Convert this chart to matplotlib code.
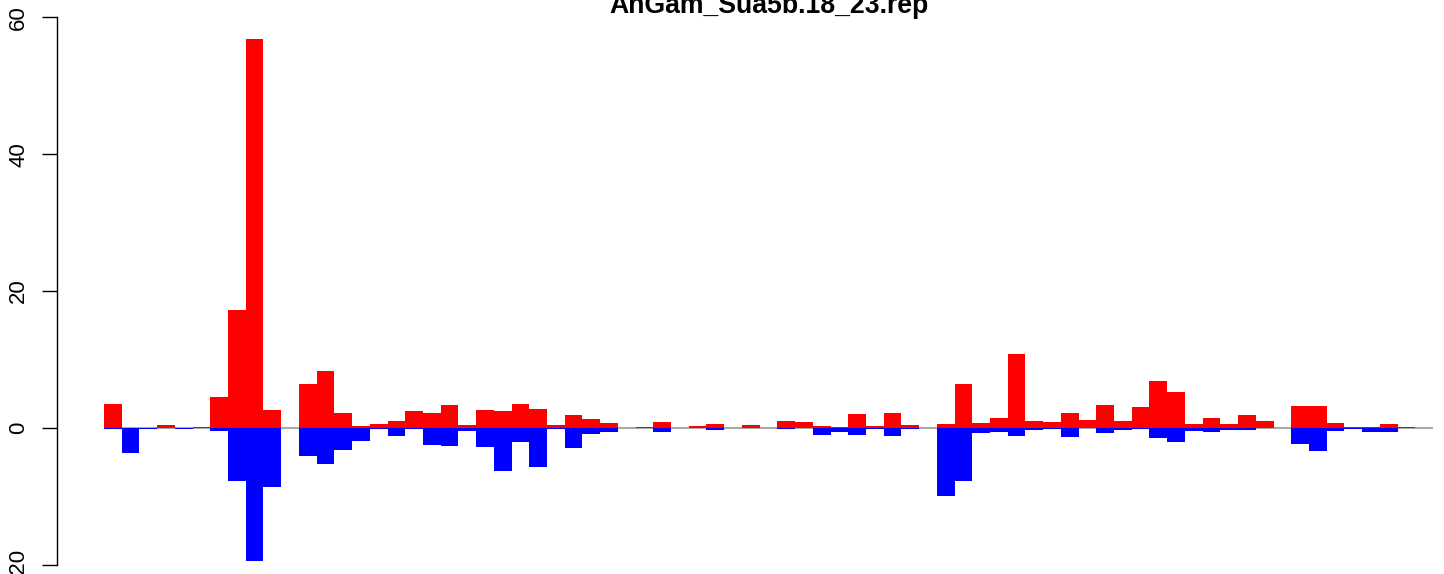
"""
Per-position positive / negative scores for AnGam_Sua5b.18_23.rep,
drawn as back-to-back bars (red above zero, blue below) in the style of an R barplot.
"""

import matplotlib

matplotlib.use("Agg")
import matplotlib.pyplot as plt

TITLE = "AnGam_Sua5b.18_23.rep"

# positive part of each position (red)
red = [3.45, 0.05, 0.05, 0.4, 0.0, 0.1, 4.6, 17.2, 56.8, 2.58, 0.0, 6.37, 8.3, 2.14, 0.24,
       0.58, 0.97, 2.43, 2.14, 3.31, 0.39, 2.58, 2.43, 3.45, 2.72, 0.39, 1.85, 1.27, 0.68, 0.0,
       0.1, 0.83, 0.0, 0.24, 0.54, 0.0, 0.39, 0.0, 0.97, 0.83, 0.24, 0.1, 2.0, 0.24, 2.17,
       0.44, 0.0, 0.58, 6.42, 0.73, 1.46, 10.8, 1.02, 0.88, 2.19, 1.17, 3.36, 1.02, 3.07, 6.86,
       5.26, 0.58, 1.46, 0.58, 1.9, 1.02, 0.0, 3.21, 3.21, 0.73, 0.15, 0.15, 0.58, 0.15, 0.0]

# negative part of each position (blue)
blue = [-0.1, -3.65, -0.1, -0.05, -0.1, 0.0, -0.45, -7.75, -19.4, -8.66, 0.0, -4.14, -5.3, -3.26, -1.95,
        -0.1, -1.22, -0.15, -2.48, -2.68, -0.49, -2.77, -6.28, -2.09, -5.69, -0.19, -2.92, -0.88, -0.58, 0.0,
        0.0, -0.58, 0.0, 0.0, -0.29, 0.0, 0.0, 0.0, -0.15, 0.0, -1.02, -0.58, -1.02, -0.15, -1.15,
        -0.15, 0.0, -10.0, -7.69, -0.68, -0.58, -1.12, -0.29, -0.1, -1.31, 0.0, -0.73, -0.29, -0.15, -1.44,
        -2.0, -0.44, -0.58, -0.29, -0.29, 0.0, 0.0, -2.29, -3.31, -0.44, -0.15, -0.58, -0.58, 0.0, 0.0]

y_ticks = [-20, 0, 20, 40, 60]

W, H, DPI = 1444, 574, 100
FONT = "Liberation Sans"


def main() -> None:
    fig = plt.figure(figsize=(W / DPI, H / DPI), dpi=DPI)
    # plot region laid out in pixels to match the R device
    left_px = 57
    ax = fig.add_axes([left_px / W, 0, (W - left_px) / W, 1])

    px_per_bar = 17.72
    first_bar_px = 104
    px_per_unit = 6.845
    zero_px = 428

    n = len(red)
    x = list(range(n))

    ax.hlines(0, 0, n, color="#A9A9A9", linewidth=1.5, zorder=1)
    ax.bar(x, red, width=1.0, align="edge", color="#FF0000", linewidth=0, zorder=2)
    ax.bar(x, blue, width=1.0, align="edge", color="#0000FF", linewidth=0, zorder=3)

    ax.set_xlim(-(first_bar_px - left_px) / px_per_bar,
                (W - first_bar_px) / px_per_bar)
    ax.set_ylim(-(H - zero_px) / px_per_unit, zero_px / px_per_unit)

    for side in ["top", "right", "bottom"]:
        ax.spines[side].set_visible(False)
    ax.spines["left"].set_bounds(min(y_ticks), max(y_ticks))
    ax.spines["left"].set_linewidth(1.0)
    ax.set_xticks([])
    ax.set_yticks(y_ticks)
    ax.set_yticklabels([str(t) for t in y_ticks], rotation=90, va="center",
                       fontsize=16, family=FONT)
    ax.tick_params(axis="y", length=11, width=1.0, pad=9)
    ax.patch.set_alpha(0)

    centre_px = first_bar_px + n * px_per_bar / 2
    fig.text(centre_px / W, 1 - 13 / H, TITLE, ha="center", va="baseline",
             fontsize=19.2, fontweight="bold", family=FONT)

    fig.savefig("out.png", dpi=DPI, facecolor="white")
    plt.close(fig)


if __name__ == "__main__":
    main()
